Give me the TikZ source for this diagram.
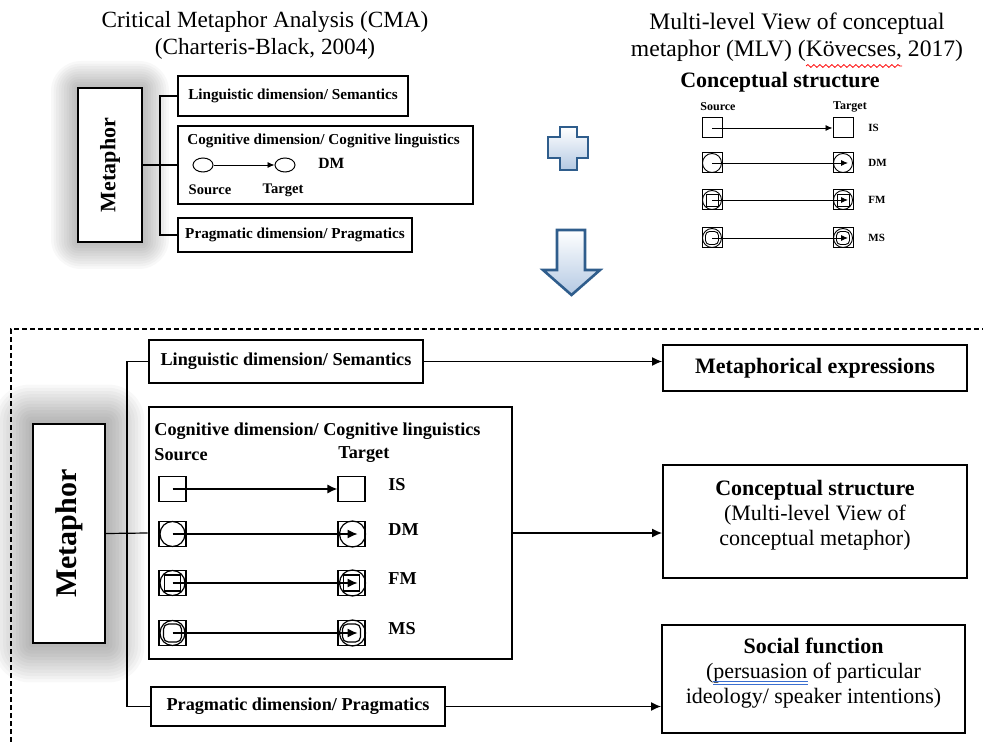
\documentclass[tikz,border=0pt]{standalone}
\usepackage{fontspec}
\setmainfont{Liberation Serif}
\usetikzlibrary{arrows.meta,shapes.geometric,decorations.pathmorphing,backgrounds,positioning}
\definecolor{arrowblue}{HTML}{2F5D8C}
\definecolor{lightblue}{HTML}{B4C9E3}
\definecolor{spellblue}{HTML}{3B6FD0}

\begin{document}
\begin{tikzpicture}[x=0.5pt,y=-0.5pt,every text node part/.style={align=center},
dimbox/.style={draw,line width=0.9pt,inner sep=0pt,font=\bfseries\fontsize{9.1}{10.5}\selectfont},
smallbox/.style={draw,line width=0.8pt,inner sep=0pt,font=\bfseries\fontsize{7.6}{9}\selectfont},
outbox/.style={draw,line width=1pt,inner sep=0pt,minimum width=152pt,font=\fontsize{11}{12.5}\selectfont},
metabox/.style={draw,fill=white,line width=1pt,inner sep=0pt},
sq/.style={draw,line width=0.6pt,inner sep=0pt,minimum width=13.5pt,minimum height=12.5pt},
sqs/.style={draw,line width=0.5pt,inner sep=0pt,minimum size=10pt},
lbl/.style={font=\bfseries\fontsize{9.1}{10.5}\selectfont,anchor=west,inner sep=0pt},
lbls/.style={font=\bfseries\fontsize{5.5}{6}\selectfont,inner sep=0pt},
arr/.style={-{Latex[length=5pt,width=4.5pt]},line width=0.6pt},
sarr/.style={-{Latex[length=3.5pt,width=3pt]},line width=0.45pt},
blockarrow/.style={draw=arrowblue,line width=1.3pt,top color=white,bottom color=lightblue,line join=miter}]
\useasboundingbox (0,0) rectangle (983,742);

% ---- top left: CMA
\node[font=\fontsize{11.6}{13.5}\selectfont] (cmatitle) at (265,35) {Critical Metaphor Analysis (CMA)\\(Charteris-Black, 2004)};
\node[metabox,minimum width=32pt,minimum height=77pt] (meta1) at (110,165) {\rotatebox{90}{\bfseries\fontsize{11}{13}\selectfont Metaphor}};
\begin{scope}[on background layer]
\foreach \i in {1,...,10}
  \fill[black,opacity=0.028,rounded corners=1.5*\i pt] ([shift={(-2.6*\i,2.6*\i)}]meta1.south west) rectangle ([shift={(2.6*\i,-2.6*\i)}]meta1.north east);
\end{scope}
\node[smallbox,minimum width=115pt,minimum height=20pt] (ling1) at (293,96) {Linguistic dimension/ Semantics};
\node[smallbox,minimum width=147.5pt,minimum height=39pt] (cog1) at (325.5,165) {};
\node[smallbox,minimum width=117pt,minimum height=17pt] (prag1) at (295,235) {Pragmatic dimension/ Pragmatics};
\coordinate (trunk1) at (160,165);
\draw[line width=0.6pt] (meta1.east) -- (cog1.west);
\draw[line width=0.6pt] (ling1.west) -| (trunk1) |- (prag1.west);
\node[lbl,font=\bfseries\fontsize{7.6}{9}\selectfont] (coglab1) at (187,141) {Cognitive dimension/ Cognitive linguistics};
\node[ellipse,draw,line width=0.5pt,minimum width=10pt,minimum height=7pt,inner sep=0pt] (src1) at (203,165) {};
\node[ellipse,draw,line width=0.5pt,minimum width=10pt,minimum height=7pt,inner sep=0pt] (tgt1) at (285,165) {};
\draw[sarr] (src1) -- (tgt1);
\node[lbl,font=\bfseries\fontsize{7.8}{8.5}\selectfont] (dm1) at (318,163) {DM};
\node[font=\bfseries\fontsize{7.3}{8}\selectfont,inner sep=0pt] (srclab1) at (210,190) {Source};
\node[font=\bfseries\fontsize{7.3}{8}\selectfont,inner sep=0pt] (tgtlab1) at (283,190) {Target};

% ---- top right: MLV
\node[font=\fontsize{11.8}{13.5}\selectfont] (mlvtitle) at (797,37) {Multi-level View of conceptual\\metaphor (MLV) (Kövecses, 2017)};
\draw[red,line width=0.4pt,decorate,decoration={snake,segment length=3pt,amplitude=0.7pt}] (806,66) -- (902,66);
\node[font=\bfseries\fontsize{11}{12}\selectfont] (cs1) at (780,82) {Conceptual structure};
\node[lbls,font=\bfseries\fontsize{6}{7}\selectfont] (srclab2) at (718,107) {Source};
\node[lbls,font=\bfseries\fontsize{6}{7}\selectfont] (tgtlab2) at (850,107) {Target};
\foreach \y/\n/\t in {128/1/IS,163/2/DM,200/3/FM,238/4/MS}{
  \node[sqs] (ts\n) at (712,\y) {};
  \node[sqs] (tt\n) at (843,\y) {};
  \node[lbls,anchor=west] (tl\n) at (868,\y) {\t};
}
\draw[sarr] (ts1.center) -- (tt1.west);
\foreach \n in {2,3,4}{
  \draw[line width=0.45pt] (ts\n.center) circle[radius=9.5] (tt\n.center) circle[radius=9.5];
  \draw[sarr] (ts\n.center) -- ([xshift=2.5pt]tt\n.center);
}
\draw[line width=0.45pt] ([shift={(-6,-6)}]ts3.center) rectangle ([shift={(6,6)}]ts3.center)
  ([shift={(-6,-6)}]tt3.center) rectangle ([shift={(6,6)}]tt3.center);
\draw[line width=0.45pt,rounded corners=2pt] ([shift={(-6.5,-6.5)}]ts4.center) rectangle ([shift={(6.5,6.5)}]ts4.center)
  ([shift={(-6.5,-6.5)}]tt4.center) rectangle ([shift={(6.5,6.5)}]tt4.center);

% ---- block arrows
\draw[blockarrow] (560,127) -- (577,127) -- (577,137) -- (588,137) -- (588,158) -- (577,158) -- (577,170)
  -- (560,170) -- (560,158) -- (548,158) -- (548,137) -- (560,137) -- cycle;
\draw[blockarrow] (557,230) -- (585,230) -- (585,270) -- (600,270) -- (571.5,295) -- (543,270) -- (557,270) -- cycle;

% ---- bottom: combined model
\draw[dashed,dash pattern=on 2.5pt off 1.5pt,line width=0.6pt] (11,742) -- (11,329) -- (983,329);
\node[metabox,minimum width=36pt,minimum height=109.5pt] (meta2) at (69,533.5) {\rotatebox{90}{\bfseries\fontsize{15}{18}\selectfont Metaphor}};
\begin{scope}[on background layer]
\foreach \i in {1,...,12}
  \fill[black,opacity=0.028,rounded corners=1.5*\i pt] ([shift={(-3.2*\i,3.2*\i)}]meta2.south west) rectangle ([shift={(3.2*\i,-3.2*\i)}]meta2.north east);
\end{scope}
\node[dimbox,minimum width=137pt,minimum height=21.5pt] (ling2) at (286,361.5) {Linguistic dimension/ Semantics};
\node[dimbox,line width=1.3pt,minimum width=181.5pt,minimum height=126pt] (cog2) at (330.5,533) {};
\node[dimbox,minimum width=147pt,minimum height=19.5pt] (prag2) at (298,706.5) {Pragmatic dimension/ Pragmatics};
\coordinate (trunk2) at (127,533);
\draw[line width=0.6pt] (meta2.east) -- (cog2.west);
\draw[line width=0.6pt] (ling2.west) -| (trunk2) |- (prag2.west);
\node[lbl] (coglab2) at (154,431) {Cognitive dimension/ Cognitive linguistics};
\node[lbl] (srclab3) at (154,455) {Source};
\node[lbl] (tgtlab3) at (338,455) {Target};
\foreach \y/\n/\t in {489/1/IS,534/2/DM,583/3/FM,633/4/MS}{
  \node[sq] (bs\n) at (172.5,\y) {};
  \node[sq] (bt\n) at (351.5,\y) {};
  \node[lbl] (bl\n) at (388,\y-4) {\t};
}
\draw[arr] (bs1.center) -- (bt1.west);
\foreach \n in {2,3,4}{
  \draw[line width=0.6pt] (bs\n.center) circle[radius=12.5] ([xshift=0.5pt]bt\n.center) circle[radius=13];
  \draw[arr] (bs\n.center) -- ([xshift=3pt]bt\n.center);
}
\draw[line width=0.6pt] ([shift={(-8,-8)}]bs3.center) rectangle ([shift={(8,8)}]bs3.center)
  ([shift={(-8,-8)}]bt3.center) rectangle ([shift={(8,8)}]bt3.center);
\draw[line width=0.6pt,rounded corners=2.5pt] ([shift={(-9,-9)}]bs4.center) rectangle ([shift={(9,9)}]bs4.center)
  ([shift={(-9,-9)}]bt4.center) rectangle ([shift={(9,9)}]bt4.center);

\node[outbox,minimum height=23pt,font=\bfseries\fontsize{11}{12.5}\selectfont] (mexp) at (815,368) {Metaphorical expressions};
\node[outbox,minimum height=56.5pt] (cstr) at (815,521.5) {\textbf{Conceptual structure}\\(Multi-level View of\\conceptual metaphor)\\[-4pt]\mbox{}};
\node[outbox,minimum width=151.5pt,minimum height=54pt] (soc) at (813.5,679) {\textbf{Social function}\\(persuasion of particular\\ideology/ speaker intentions)\\[-4pt]\mbox{}};
\draw[spellblue,line width=0.4pt] (713,681.5) -- (808,681.5) (713,684) -- (808,684);
\draw[arr] (ling2.east) -- (ling2.east -| mexp.west);
\draw[arr] (cog2.east) -- (cog2.east -| cstr.west);
\draw[arr] (prag2.east) -- (prag2.east -| soc.west);
\end{tikzpicture}
\end{document}
